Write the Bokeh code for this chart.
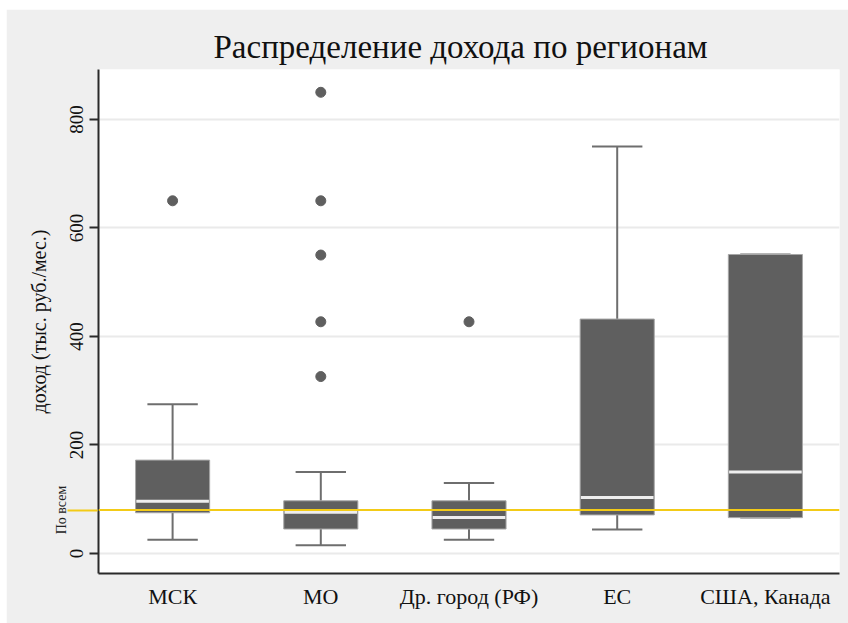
from math import pi
from bokeh.plotting import figure
from bokeh.models import (Range1d, FactorRange, Span, FixedTicker, ColumnDataSource, LinearAxis)
from bokeh.transform import dodge
from bokeh.embed import file_html
from bokeh.resources import INLINE

categories = ["МСК", "МО", "Др. город (РФ)", "ЕС", "США, Канада"]
q1 = [75, 45, 45, 71, 66]
median = [96, 76, 66, 103, 150]
q3 = [172, 97, 97, 432, 551]
lower = [25, 15, 25, 44, 66]
upper = [275, 150, 130, 750, 551]
outlier_cat = ["МСК", "МО", "МО", "МО", "МО", "МО", "Др. город (РФ)"]
outlier_val = [650, 850, 650, 550, 427, 326, 427]
overall = 80
overall_label = "По всем"
y_ticks = [0, 200, 400, 600, 800]

FONT = "Liberation Serif"
YELLOW = "#f3cb17"
DARK = "#2a2a2a"

p = figure(width=842, height=614, x_range=FactorRange(*categories),
           y_range=Range1d(-37, 892), output_backend="svg", toolbar_location=None,
           title="Распределение дохода по регионам",
           min_border_left=92, min_border_right=9, min_border_top=60, min_border_bottom=50)
p.margin = (9, 0, 0, 6)
p.background_fill_color = "white"
p.border_fill_color = "#efefef"
p.outline_line_color = None

p.title.text_font = FONT
p.title.text_font_size = "33px"
p.title.text_font_style = "normal"
p.title.align = "left"
p.title.offset = 115
p.title.text_color = "#111111"

src = ColumnDataSource(dict(cat=categories, q1=q1, med=median, q3=q3, lo=lower, hi=upper))
osrc = ColumnDataSource(dict(cat=outlier_cat, val=outlier_val))

p.xgrid.grid_line_color = None
p.ygrid.grid_line_color = "#eaeaea"
p.ygrid.grid_line_width = 2

p.add_layout(Span(location=overall, dimension="width", line_color=YELLOW, line_width=2))

wc = "#6e6e6e"
p.segment(x0="cat", x1="cat", y0="q3", y1="hi", source=src, line_color=wc, line_width=2)
p.segment(x0="cat", x1="cat", y0="lo", y1="q1", source=src, line_color=wc, line_width=2)
p.segment(x0=dodge("cat", -0.17, range=p.x_range), x1=dodge("cat", 0.17, range=p.x_range),
          y0="hi", y1="hi", source=src, line_color=wc, line_width=2)
p.segment(x0=dodge("cat", -0.17, range=p.x_range), x1=dodge("cat", 0.17, range=p.x_range),
          y0="lo", y1="lo", source=src, line_color=wc, line_width=2)

p.vbar(x="cat", top="q3", bottom="q1", width=0.5, source=src,
       fill_color="#5f5f5f", line_color="#a6a6a6", line_width=1)
p.segment(x0=dodge("cat", -0.245, range=p.x_range), x1=dodge("cat", 0.245, range=p.x_range),
          y0="med", y1="med", source=src, line_color="#eeeeee", line_width=3)

p.scatter(x="cat", y="val", source=osrc, size=10, fill_color="#5f5f5f", line_color="#5f5f5f")

# inner y axis: axis line, short dark ticks and numbers
ya = p.yaxis[0]
ya.ticker = FixedTicker(ticks=y_ticks)
ya.axis_line_color = DARK
ya.axis_line_width = 2
ya.major_tick_line_color = DARK
ya.major_tick_line_width = 2
ya.major_tick_out = 9
ya.major_tick_in = 0
ya.minor_tick_line_color = None
ya.minor_tick_out = 0
ya.major_label_orientation = "vertical"
ya.major_label_text_font = FONT
ya.major_label_text_font_size = "19px"
ya.major_label_text_color = "#111111"
ya.major_label_standoff = 6

# outer axis: the overall-income mark (yellow tick reaching the frame) and the axis title
ax80 = LinearAxis(ticker=FixedTicker(ticks=[overall]),
                  major_label_overrides={overall: overall_label})
ax80.axis_line_color = None
ax80.major_tick_line_color = YELLOW
ax80.major_tick_line_width = 2
ax80.major_tick_in = 30
ax80.major_tick_out = 0
ax80.minor_tick_line_color = None
ax80.minor_tick_out = 0
ax80.major_label_orientation = "vertical"
ax80.major_label_text_font = FONT
ax80.major_label_text_font_size = "14px"
ax80.major_label_text_color = "#222222"
ax80.major_label_standoff = -2
ax80.axis_label = "доход (тыс. руб./мес.)"
ax80.axis_label_text_font = FONT
ax80.axis_label_text_font_style = "normal"
ax80.axis_label_text_font_size = "20px"
ax80.axis_label_text_color = "#111111"
ax80.axis_label_standoff = 2
p.add_layout(ax80, "left")

p.xaxis.major_label_text_font = FONT
p.xaxis.major_label_text_font_size = "22px"
p.xaxis.major_label_text_color = "#111111"
p.xaxis.axis_line_color = DARK
p.xaxis.axis_line_width = 2
p.xaxis.major_tick_line_color = None
p.xaxis.minor_tick_line_color = None
p.xaxis.major_label_standoff = 4

open("out.html", "w").write(file_html(p, INLINE))
